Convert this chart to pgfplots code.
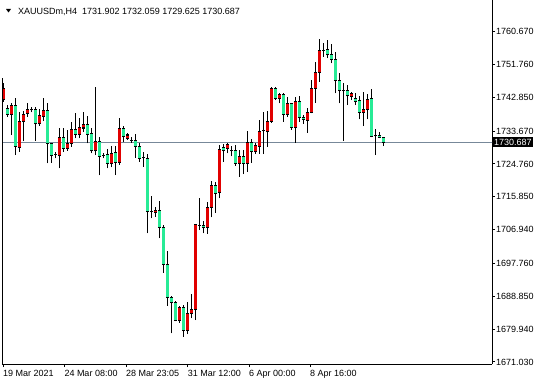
\documentclass[border=0pt]{standalone}
\usepackage{fontspec}
\setmainfont{Liberation Sans}
\usepackage{pgfplots}
\usepackage{pgfplotstable}
\pgfplotsset{compat=1.18}
\definecolor{upcol}{RGB}{225,0,0}
\definecolor{dncol}{RGB}{40,235,150}
\definecolor{pline}{RGB}{119,136,153}
\pgfplotstableread{
k o h l c
0 1742.40 1746.66 1741.67 1745.31
1 1739.74 1740.77 1737.65 1738.20
2 1738.20 1741.45 1732.63 1740.64
3 1740.64 1742.67 1727.20 1729.51
4 1729.24 1738.87 1728.10 1736.43
5 1736.30 1739.01 1731.00 1738.20
6 1738.52 1741.32 1737.60 1739.61
7 1739.47 1740.10 1738.74 1739.47
8 1739.42 1740.10 1731.08 1735.62
9 1735.75 1739.69 1735.07 1737.79
10 1737.60 1742.59 1736.43 1739.15
11 1739.15 1741.32 1724.95 1730.38
12 1730.32 1730.46 1725.03 1727.07
13 1727.34 1728.10 1726.31 1727.34
14 1727.01 1734.45 1723.59 1731.82
15 1731.95 1734.45 1728.10 1728.97
16 1729.02 1733.99 1728.29 1730.38
17 1730.38 1736.24 1729.46 1733.99
18 1733.99 1738.52 1731.74 1732.82
19 1732.90 1737.16 1731.74 1734.80
20 1734.53 1738.79 1733.53 1735.48
21 1735.54 1737.87 1730.38 1732.90
22 1733.09 1734.45 1727.66 1728.29
23 1728.29 1745.74 1727.20 1731.00
24 1730.87 1732.17 1721.64 1726.80
25 1727.20 1727.83 1726.31 1727.20
26 1727.47 1728.70 1723.54 1724.95
27 1724.95 1729.51 1723.81 1727.61
28 1727.75 1729.51 1721.77 1725.17
29 1725.17 1737.16 1724.49 1734.26
30 1734.26 1734.94 1730.60 1732.09
31 1731.68 1733.09 1731.27 1732.63
32 1731.27 1732.09 1730.46 1731.27
33 1731.27 1732.77 1726.52 1729.46
34 1729.56 1730.54 1725.38 1726.31
35 1726.47 1728.10 1723.95 1726.47
36 1726.31 1727.47 1705.95 1712.00
37 1711.87 1716.07 1709.97 1711.87
38 1711.54 1713.22 1710.37 1712.27
39 1712.27 1714.80 1704.59 1707.58
40 1707.58 1708.20 1695.25 1697.53
41 1697.53 1701.23 1686.30 1688.58
42 1688.58 1688.93 1678.80 1687.22
43 1687.22 1687.44 1682.01 1682.22
44 1682.22 1686.21 1681.60 1685.86
45 1685.86 1686.49 1677.88 1679.51
46 1679.51 1687.38 1678.61 1684.23
47 1684.23 1689.47 1682.88 1685.13
48 1685.13 1708.47 1682.41 1708.39
49 1708.20 1715.45 1706.84 1708.20
50 1708.20 1709.37 1705.95 1707.47
51 1707.58 1714.53 1705.76 1713.01
52 1713.01 1720.23 1710.29 1718.79
53 1718.79 1719.95 1711.54 1716.81
54 1716.97 1729.92 1715.45 1728.56
55 1729.18 1730.19 1725.38 1728.37
56 1729.02 1730.54 1727.66 1729.92
57 1728.37 1729.78 1726.80 1728.37
58 1728.37 1729.92 1724.22 1724.95
59 1724.95 1728.56 1721.31 1726.66
60 1726.66 1728.56 1722.04 1724.95
61 1724.95 1733.72 1722.59 1730.65
62 1730.65 1731.46 1725.11 1728.10
63 1728.10 1730.38 1727.47 1729.65
64 1729.51 1736.70 1727.47 1733.53
65 1733.80 1738.96 1727.47 1733.80
66 1733.53 1739.23 1729.46 1736.43
67 1736.43 1745.74 1735.97 1745.31
68 1745.31 1745.74 1742.13 1742.59
69 1742.59 1743.95 1741.24 1743.49
70 1743.49 1743.95 1736.24 1738.33
71 1738.33 1743.03 1737.60 1741.05
72 1741.05 1741.40 1733.99 1734.72
73 1734.72 1743.03 1730.54 1741.67
74 1741.67 1743.22 1736.24 1737.44
75 1737.44 1738.06 1735.62 1736.89
76 1736.70 1739.88 1733.25 1738.79
77 1738.79 1747.56 1738.52 1745.31
78 1745.31 1752.53 1741.40 1749.65
79 1749.65 1758.61 1747.10 1755.70
80 1755.70 1757.52 1753.88 1755.70
81 1755.89 1758.42 1753.45 1754.35
82 1754.35 1757.33 1752.09 1753.18
83 1753.18 1755.24 1743.95 1747.37
84 1747.37 1749.38 1741.24 1744.66
85 1744.66 1746.66 1731.08 1744.66
86 1744.66 1746.20 1740.77 1743.22
87 1743.03 1744.38 1742.13 1743.95
88 1742.59 1743.95 1740.77 1741.67
89 1741.86 1743.22 1736.89 1738.68
90 1738.68 1744.38 1735.07 1739.42
91 1739.42 1743.76 1736.89 1742.40
92 1742.59 1745.03 1732.01 1732.17
93 1732.36 1734.18 1727.20 1732.36
94 1732.44 1733.53 1731.74 1732.01
95 1731.902 1732.059 1729.625 1730.687
}\candles
\begin{document}
\begin{tikzpicture}[font=\fontsize{9bp}{11bp}\selectfont]
\path[use as bounding box] (0,0) rectangle (543bp,385bp);
\begin{axis}[
  at={(2bp,21bp)}, anchor=south west, scale only axis,
  width=490bp, height=364bp,
  xmin=-0.375, xmax=122.125, ymin=1670.47, ymax=1769.275,
  axis x line*=bottom, axis y line*=right,
  axis line style={line width=1bp, black},
  tick align=outside, major tick length=3bp,
  tick style={black, line width=1bp},
  /pgf/number format/assume math mode=true,
  xtick={-0.125,15.2,30.625,46.05,61.375,76.625},
  xticklabels={19 Mar 2021,24 Mar 08:00,28 Mar 23:05,31 Mar 12:00,6 Apr 00:00,8 Apr 16:00},
  ytick={1671.03,1679.94,1688.85,1697.76,1706.94,1715.85,1724.76,1733.67,1742.85,1751.76,1760.67},
  yticklabels={1671.030,1679.940,1688.850,1697.760,1706.940,1715.850,1724.760,1733.670,1742.850,1751.760,1760.670},
  xticklabel style={anchor=north west, inner sep=0pt, yshift=-3bp, font=\fontsize{9bp}{11bp}\selectfont},
  yticklabel style={anchor=west, inner sep=0pt, xshift=1bp, font=\fontsize{9bp}{11bp}\selectfont},
  clip=true,
]
% current price line
\addplot[pline, line width=1bp, forget plot] coordinates {(-1,1730.687) (123,1730.687)};
% wicks
\addplot[black, draw=none, mark=none, forget plot,
  error bars/.cd, y dir=plus, y explicit, error mark=none,
  error bar style={black, line width=1bp}]
  table[x=k, y=l, y error plus expr=\thisrow{h}-\thisrow{l}] {\candles};
% body outline
\addplot[black, draw=none, mark=none, forget plot,
  error bars/.cd, y dir=plus, y explicit, error mark=none,
  error bar style={black, line width=3.4bp}]
  table[x=k, y expr={min(\thisrow{o},\thisrow{c})-0.136},
        y error plus expr={abs(\thisrow{c}-\thisrow{o})+0.272}] {\candles};
% rising bodies
\addplot[upcol, draw=none, mark=none, forget plot,
  error bars/.cd, y dir=plus, y explicit, error mark=none,
  error bar style={upcol, line width=2.2bp}]
  table[x=k, y expr={\thisrow{o}+0.136},
        y error plus expr={(\thisrow{c}-\thisrow{o}>0.272) ? (\thisrow{c}-\thisrow{o}-0.272) : 0}] {\candles};
% falling bodies
\addplot[dncol, draw=none, mark=none, forget plot,
  error bars/.cd, y dir=plus, y explicit, error mark=none,
  error bar style={dncol, line width=2.2bp}]
  table[x=k, y expr={\thisrow{c}+0.136},
        y error plus expr={(\thisrow{o}-\thisrow{c}>0.272) ? (\thisrow{o}-\thisrow{c}-0.272) : 0}] {\candles};
\draw[black, line width=1bp] (rel axis cs:0,0) -- (rel axis cs:0,0.786);
\coordinate (cp) at (axis cs:122.125,1730.687);
\end{axis}
\node[fill=black, text=white, anchor=west, inner xsep=1.5bp, inner ysep=0pt,
  minimum height=10bp, xshift=0.5bp] at (cp) {1730.687};
\fill (6bp,376bp) -- (11bp,376bp) -- (8.5bp,372.5bp) -- cycle;
\node[anchor=base west, inner sep=0pt] at (18bp,370.5bp)
  {XAUUSDm,H4\hspace*{5bp}1731.902 1732.059 1729.625 1730.687};
\end{tikzpicture}
\end{document}
